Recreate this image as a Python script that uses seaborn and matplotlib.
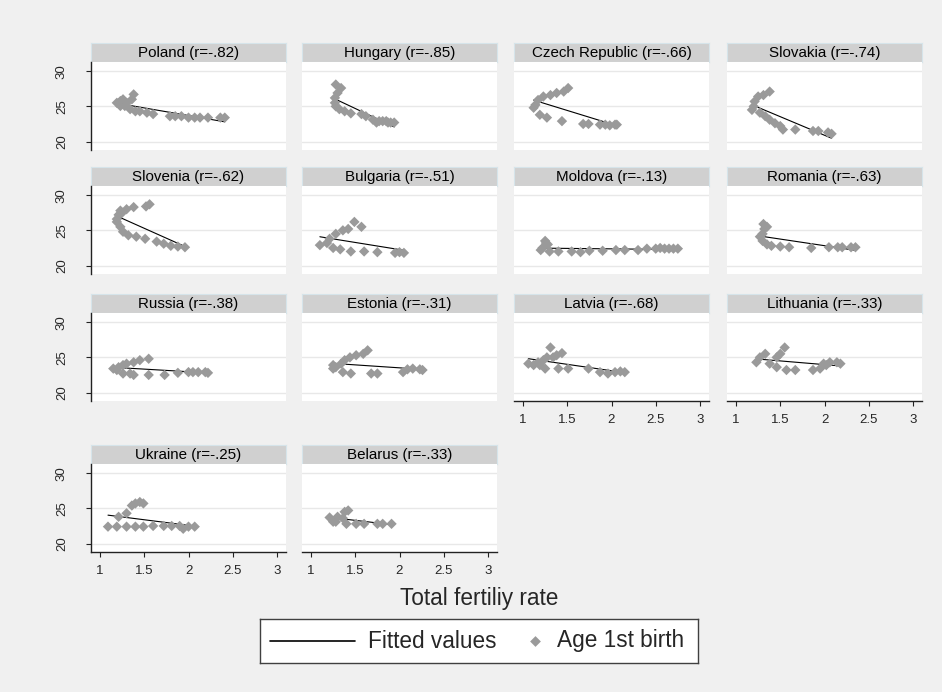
import numpy as np
import pandas as pd
import matplotlib
matplotlib.use('Agg')
import matplotlib.pyplot as plt
import seaborn as sns

# countries in panel order and the r shown in each strip
countries = ['Poland', 'Hungary', 'Czech Republic', 'Slovakia',
             'Slovenia', 'Bulgaria', 'Moldova', 'Romania',
             'Russia', 'Estonia', 'Latvia', 'Lithuania',
             'Ukraine', 'Belarus']
r_labels = ['-.82', '-.85', '-.66', '-.74', '-.62', '-.51', '-.13', '-.63',
            '-.38', '-.31', '-.68', '-.33', '-.25', '-.33']

# total fertility rate / mean age at 1st birth
poland_tfr = [1.19, 1.23, 1.26, 1.30, 1.23, 1.28, 1.38, 1.36, 1.34, 1.40, 1.45, 1.53, 1.60,
              1.79, 1.85, 1.92, 2.00, 2.07, 2.13, 2.22, 2.36, 2.41]
poland_age = [25.5, 25.75, 26.0, 25.5, 25.05, 25.05, 26.7, 26.0, 24.6, 24.3, 24.3, 24.1, 23.9,
              23.6, 23.6, 23.6, 23.4, 23.4, 23.4, 23.4, 23.4, 23.4]

hungary_tfr = [1.28, 1.34, 1.30, 1.27, 1.27, 1.28, 1.32, 1.38, 1.45, 1.57, 1.62, 1.70, 1.74,
               1.77, 1.81, 1.85, 1.87, 1.90, 1.94]
hungary_age = [28.1, 27.6, 26.9, 26.2, 25.5, 25.0, 24.6, 24.3, 24.0, 23.9, 23.6, 23.1, 22.7,
               22.9, 22.9, 22.9, 22.7, 22.7, 22.7]

czech_tfr = [1.12, 1.14, 1.17, 1.23, 1.31, 1.38, 1.46, 1.51, 1.19, 1.27, 1.44, 1.68, 1.74,
             1.87, 1.93, 1.98, 2.04, 2.06]
czech_age = [24.8, 25.2, 25.9, 26.4, 26.6, 26.9, 27.1, 27.6, 23.8, 23.4, 22.9, 22.5, 22.5,
             22.4, 22.4, 22.3, 22.4, 22.4]

slovakia_tfr = [1.18, 1.20, 1.21, 1.25, 1.31, 1.38, 1.27, 1.33, 1.38, 1.44, 1.50, 1.53, 1.67,
                1.87, 1.93, 2.04, 2.08]
slovakia_age = [24.5, 25.0, 25.7, 26.4, 26.6, 27.1, 24.1, 23.6, 23.1, 22.6, 22.2, 21.7, 21.7,
                21.5, 21.5, 21.3, 21.1]

slovenia_tfr = [1.19, 1.21, 1.23, 1.25, 1.30, 1.38, 1.52, 1.56, 1.19, 1.23, 1.26, 1.32, 1.41,
                1.51, 1.64, 1.72, 1.80, 1.88, 1.96]
slovenia_age = [26.6, 27.2, 27.8, 27.5, 28.0, 28.3, 28.4, 28.7, 26.2, 25.5, 24.8, 24.3, 24.1,
                23.8, 23.4, 23.1, 22.8, 22.7, 22.6]

bulgaria_tfr = [1.10, 1.18, 1.21, 1.28, 1.36, 1.42, 1.49, 1.57, 1.25, 1.33, 1.45, 1.60, 1.75,
                1.95, 2.00, 2.05]
bulgaria_age = [22.9, 23.2, 23.8, 24.5, 25.0, 25.2, 26.2, 25.5, 22.5, 22.3, 22.0, 22.0, 21.9,
                21.8, 21.9, 21.8]

moldova_tfr = [1.25, 1.26, 1.28, 1.22, 1.20, 1.30, 1.40, 1.55, 1.65, 1.75, 1.90, 2.05, 2.15,
               2.30, 2.40, 2.50, 2.55, 2.60, 2.65, 2.70, 2.75]
moldova_age = [23.5, 23.2, 23.0, 22.5, 22.2, 22.0, 22.0, 22.0, 21.9, 22.1, 22.1, 22.2, 22.2,
               22.2, 22.4, 22.4, 22.5, 22.4, 22.4, 22.4, 22.4]

romania_tfr = [1.31, 1.32, 1.35, 1.30, 1.27, 1.30, 1.35, 1.40, 1.50, 1.60, 1.85, 2.05, 2.15,
               2.20, 2.30, 2.35]
romania_age = [25.9, 25.2, 25.5, 24.5, 24.1, 23.5, 23.0, 22.8, 22.7, 22.6, 22.5, 22.6, 22.6,
               22.6, 22.6, 22.6]

russia_tfr = [1.15, 1.19, 1.21, 1.26, 1.30, 1.38, 1.45, 1.55, 1.26, 1.34, 1.38, 1.55, 1.73,
              1.88, 2.00, 2.05, 2.11, 2.19, 2.22]
russia_age = [23.4, 23.2, 23.6, 23.9, 24.1, 24.3, 24.6, 24.8, 22.7, 22.7, 22.5, 22.5, 22.5,
              22.8, 22.9, 22.9, 22.9, 22.9, 22.8]

estonia_tfr = [1.25, 1.28, 1.34, 1.38, 1.44, 1.51, 1.59, 1.64, 1.25, 1.36, 1.45, 1.68, 1.75,
               2.04, 2.09, 2.15, 2.23, 2.26]
estonia_age = [23.4, 23.6, 24.1, 24.6, 25.0, 25.3, 25.5, 26.0, 23.9, 22.9, 22.7, 22.7, 22.7,
               22.9, 23.3, 23.4, 23.3, 23.2]

latvia_tfr = [1.06, 1.12, 1.17, 1.19, 1.23, 1.27, 1.31, 1.34, 1.38, 1.44, 1.25, 1.40, 1.51,
              1.74, 1.87, 1.96, 2.04, 2.10, 2.15]
latvia_age = [24.1, 23.9, 24.3, 23.9, 24.6, 25.0, 26.4, 25.0, 25.3, 25.6, 23.4, 23.4, 23.4,
              23.4, 22.9, 22.7, 22.9, 23.0, 22.9]

lithuania_tfr = [1.23, 1.27, 1.33, 1.38, 1.46, 1.50, 1.55, 1.46, 1.57, 1.67, 1.87, 1.95, 1.99,
                 2.02, 2.06, 2.14, 2.18]
lithuania_age = [24.3, 25.0, 25.5, 24.1, 25.0, 25.5, 26.4, 23.6, 23.2, 23.2, 23.2, 23.4, 24.1,
                 23.9, 24.3, 24.3, 24.1]

ukraine_tfr = [1.09, 1.19, 1.21, 1.30, 1.30, 1.36, 1.40, 1.45, 1.49, 1.40, 1.49, 1.60, 1.72,
               1.81, 1.90, 1.94, 2.00, 2.07]
ukraine_age = [22.4, 22.4, 23.8, 22.4, 24.3, 25.4, 25.7, 25.9, 25.7, 22.4, 22.4, 22.5, 22.5,
               22.5, 22.5, 22.1, 22.4, 22.4]

belarus_tfr = [1.21, 1.25, 1.28, 1.30, 1.36, 1.38, 1.42, 1.40, 1.51, 1.60, 1.75, 1.81, 1.91]
belarus_age = [23.7, 23.1, 23.1, 23.8, 23.6, 24.5, 24.7, 22.8, 22.8, 22.8, 22.8, 22.8, 22.8]

series = [(poland_tfr, poland_age), (hungary_tfr, hungary_age), (czech_tfr, czech_age),
          (slovakia_tfr, slovakia_age), (slovenia_tfr, slovenia_age),
          (bulgaria_tfr, bulgaria_age), (moldova_tfr, moldova_age),
          (romania_tfr, romania_age), (russia_tfr, russia_age), (estonia_tfr, estonia_age),
          (latvia_tfr, latvia_age), (lithuania_tfr, lithuania_age),
          (ukraine_tfr, ukraine_age), (belarus_tfr, belarus_age)]

frames = []
for name, (t, a) in zip(countries, series):
    frames.append(pd.DataFrame({'country': name, 'tfr': t, 'age': a}))
df = pd.concat(frames, ignore_index=True)

sns.set_style('white')
plt.rcParams['font.family'] = ['Liberation Sans', 'DejaVu Sans']

W, H = 942, 692
bg = '#F0F0F0'
dot = '#9A9A9A'
axis_col = '#222222'

fig = plt.figure(figsize=(W / 100, H / 100), dpi=100, facecolor=bg)


def box(left, top, w, h):
    # pixel box (top-left origin) -> figure fraction
    return [left / W, 1 - (top + h) / H, w / W, h / H]


col_left = [91, 302, 514, 727]
row_top = [62, 186, 313, 464]
pw, ph, sh = 195, 88, 19

for i, name in enumerate(countries):
    row, col = divmod(i, 4)
    left, top = col_left[col], row_top[row]

    # strip with the panel title
    sax = fig.add_axes(box(left, top - sh, pw, sh))
    sax.set_facecolor('#D0D0D0')
    sax.set_xticks([])
    sax.set_yticks([])
    for s in sax.spines.values():
        s.set_color('#D6E4EA')
        s.set_linewidth(0.8)
    sax.text(0.5, 0.47, f'{name} (r={r_labels[i]})', ha='center', va='center',
             fontsize=10.9, color='black', transform=sax.transAxes)

    ax = fig.add_axes(box(left, top, pw, ph))
    ax.set_facecolor('white')
    d = df[df['country'] == name]
    sns.regplot(data=d, x='tfr', y='age', ax=ax, scatter=False, ci=None, truncate=True,
                line_kws=dict(color='black', lw=0.8, zorder=2))
    sns.scatterplot(data=d, x='tfr', y='age', ax=ax, marker='D', s=28, color=dot,
                    edgecolor='none', linewidth=0, zorder=3, legend=False)

    ax.set_xlim(0.898, 3.102)
    ax.set_ylim(18.8, 31.3)
    ax.set_yticks([20, 25, 30])
    ax.set_xticks([1, 1.5, 2, 2.5, 3])
    ax.set_xticklabels(['1', '1.5', '2', '2.5', '3'])
    ax.grid(axis='y', color='#E8E8E8', lw=1)
    ax.grid(axis='x', visible=False)
    ax.set_axisbelow(True)
    ax.set_xlabel('')
    ax.set_ylabel('')
    ax.spines['top'].set_visible(False)
    ax.spines['right'].set_visible(False)

    if col == 0:
        ax.spines['left'].set_color(axis_col)
        ax.spines['left'].set_linewidth(1)
        ax.tick_params(axis='y', length=3.6, width=0.8, color=axis_col, labelsize=9.5,
                       pad=13, left=True)
        for lab in ax.get_yticklabels():
            lab.set_rotation(90)
            lab.set_va('center')
    else:
        ax.spines['left'].set_visible(False)
        ax.tick_params(axis='y', length=0, labelleft=False)

    if i >= 10:
        ax.spines['bottom'].set_color(axis_col)
        ax.spines['bottom'].set_linewidth(1)
        ax.tick_params(axis='x', length=3.6, width=0.8, color=axis_col, labelsize=9.5,
                       pad=5.5, bottom=True)
    else:
        ax.spines['bottom'].set_visible(False)
        ax.tick_params(axis='x', length=0, labelbottom=False)

fig.text(479 / W, 1 - 598 / H, 'Total fertiliy rate', ha='center', va='center', fontsize=16.3)

# legend box
lax = fig.add_axes(box(260, 619, 438, 44))
lax.set_xlim(0, 438)
lax.set_ylim(44, 0)
lax.set_facecolor('white')
lax.set_xticks([])
lax.set_yticks([])
for s in lax.spines.values():
    s.set_color('#404040')
    s.set_linewidth(1)
lax.plot([10, 95], [22, 22], color='black', lw=1.2)
lax.text(108, 22, 'Fitted values', ha='left', va='center', fontsize=16.3)
lax.scatter([275], [22], marker='D', s=30, color=dot, linewidths=0)
lax.text(297, 22, 'Age 1st birth', ha='left', va='center', fontsize=16.3)

fig.savefig('out.png', dpi=100, facecolor=bg)
